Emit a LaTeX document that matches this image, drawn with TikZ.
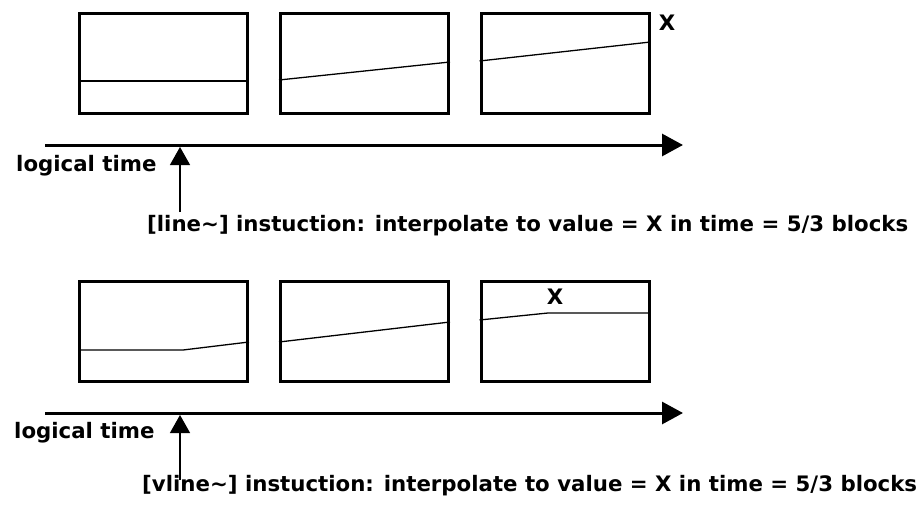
\documentclass[tikz,border=0pt]{standalone}
\usepackage{fontspec}
\setmainfont{DejaVu Sans}
\usetikzlibrary{arrows.meta}
\begin{document}
\begin{tikzpicture}[x=1pt,y=-1pt,
  blk/.style={draw,line width=3pt,minimum width=168pt,minimum height=100pt,inner sep=0pt,anchor=north west},
  sig/.style={line width=1.3pt},
  axis/.style={line width=3pt,-{Triangle[length=21pt,width=22pt]}},
  evt/.style={line width=1.3pt,-{Triangle[length=18pt,width=20pt]}},
  lbl/.style={font=\bfseries\fontsize{21.3}{24}\selectfont,inner sep=0pt}]
\useasboundingbox (0,0) rectangle (923,508);
% ---------- top row ----------
\node[blk] (a1) at (78,12.5) {};
\node[blk] (a2) at (279,12.5) {};
\node[blk] (a3) at (479.5,12.5) {};
\draw[sig] (a1.west |- 0,81) -- (a1.east |- 0,81);
\draw[sig] (a2.west |- 0,80) -- (a2.east |- 0,62);
\draw[sig] (a3.west |- 0,61) -- (a3.east |- 0,42);
\node[lbl] (xa) at (667,23) {X};
\coordinate (ta0) at (45,145);
\coordinate (ta1) at (683,145);
\draw[axis] (ta0) -- (ta1);
\node[lbl,anchor=base west] (lta) at (16,171) {logical time};
\node[lbl,anchor=base west] (ia) at (147,231) {[line\textasciitilde] instuction: interpolate to value = X in time = 5/3 blocks};
\coordinate (ea0) at (180,212);
\coordinate (ea1) at (180,147);
\draw[evt] (ea0) -- (ea1);
% ---------- bottom row ----------
\node[blk] (b1) at (78,279.5) {};
\node[blk] (b2) at (279,279.5) {};
\node[blk] (b3) at (479.5,279.5) {};
\draw[sig] (b1.west |- 0,350) -- (183,350) -- (b1.east |- 0,342);
\draw[sig] (b2.west |- 0,342) -- (b2.east |- 0,322);
\draw[sig] (b3.west |- 0,320) -- (548,313) -- (b3.east |- 0,313);
\node[lbl] (xb) at (555,297) {X};
\coordinate (tb0) at (45,413);
\coordinate (tb1) at (683,413);
\draw[axis] (tb0) -- (tb1);
\node[lbl,anchor=base west] (ltb) at (14,438) {logical time};
\node[lbl,anchor=base west] (ib) at (142,491) {[vline\textasciitilde] instuction: interpolate to value = X in time = 5/3 blocks};
\coordinate (eb0) at (180,480);
\coordinate (eb1) at (180,415);
\draw[evt] (eb0) -- (eb1);
\end{tikzpicture}
\end{document}
